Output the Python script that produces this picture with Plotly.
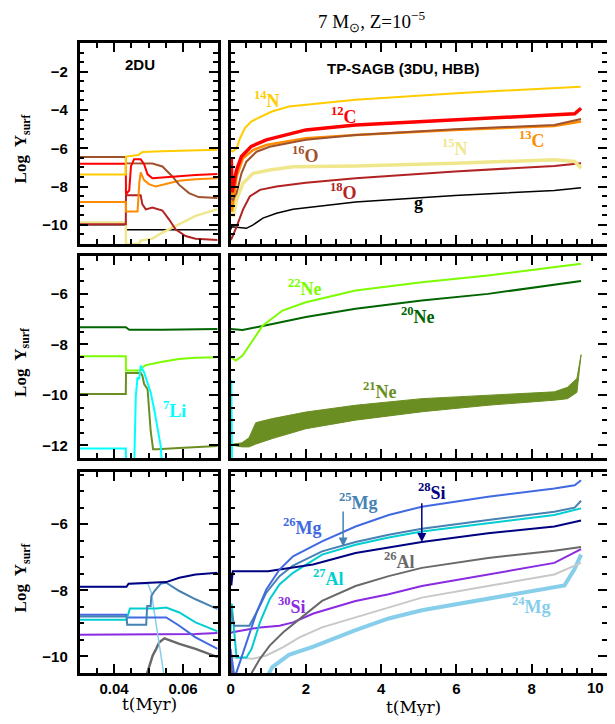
import plotly.graph_objects as go

# ---------------- DATA (t in Myr, value = log Y_surf) ----------------
# Row 1, left panel (2DU)
n14_l_t = [0.03, 0.0434, 0.04345, 0.047, 0.0482, 0.054, 0.07]
n14_l = [-7.37, -7.37, -6.43, -6.35, -6.2, -6.15, -6.08]
c12_l_t = [0.03, 0.0434, 0.04345, 0.0444, 0.0449, 0.0454, 0.0458, 0.0477, 0.0487, 0.0497, 0.0511, 0.054, 0.0588, 0.0636, 0.07]
c12_l = [-6.81, -6.81, -8.4, -8.2, -6.94, -6.7, -6.57, -6.57, -6.83, -7.36, -7.57, -7.53, -7.45, -7.4, -7.34]
c13_l_t = [0.03, 0.0434, 0.04345, 0.0468, 0.0473, 0.0477, 0.0487, 0.0501, 0.0521, 0.055, 0.0588, 0.0636, 0.07]
c13_l = [-8.8, -8.8, -9.3, -9.3, -7.83, -7.26, -7.66, -7.87, -8.0, -7.87, -7.7, -7.62, -7.57]
o16_l_t = [0.03, 0.0434, 0.04345, 0.0511, 0.054, 0.0569, 0.0588, 0.0617, 0.0645, 0.07]
o16_l = [-6.46, -6.46, -6.78, -6.8, -6.95, -7.47, -7.9, -8.34, -8.55, -8.6]
n15_l_t = [0.03, 0.0434, 0.04345, 0.0473, 0.0477, 0.0511, 0.054, 0.0588, 0.0636, 0.07]
n15_l = [-9.88, -9.88, -11.0, -11.0, -10.82, -10.72, -10.4, -9.97, -9.53, -9.18]
o18_l_t = [0.03, 0.0434, 0.04345, 0.0477, 0.0482, 0.0492, 0.0511, 0.054, 0.0559, 0.0578, 0.0607, 0.0636, 0.07]
o18_l = [-9.97, -9.97, -8.45, -8.45, -8.93, -9.19, -9.1, -9.25, -9.71, -10.23, -10.58, -10.72, -10.79]
g_l_t = [0.03, 0.0434, 0.04345, 0.07]
g_l = [-10.0, -10.0, -10.26, -10.26]

# Row 1, right panel (TP-SAGB)
n14_r_t = [0, 0.05, 0.16, 0.25, 0.38, 0.55, 0.67, 1.1, 1.55, 2.5, 3.32, 6.0, 8.0, 9.3]
n14_r = [-6.08, -6.17, -6.0, -5.48, -4.95, -4.6, -4.48, -4.08, -3.82, -3.64, -3.47, -3.12, -2.91, -2.78]
c12_r_t = [0, 0.02, 0.04, 0.16, 0.29, 0.55, 0.95, 1.66, 2.0, 3.32, 5.96, 8.6, 9.14, 9.31]
c12_r = [-7.34, -6.5, -8.3, -7.13, -6.43, -5.9, -5.56, -5.21, -5.04, -4.78, -4.52, -4.26, -4.2, -3.91]
c13_r_t = [0, 0.02, 0.04, 0.16, 0.33, 0.6, 0.95, 1.66, 2.0, 3.32, 5.96, 8.6, 9.31]
c13_r = [-7.57, -6.9, -9.3, -7.48, -6.52, -6.09, -5.83, -5.56, -5.47, -5.3, -5.04, -4.83, -4.6]
o16_r_t = [0, 0.07, 0.16, 0.29, 0.42, 0.69, 1.04, 1.66, 2.0, 3.32, 5.96, 8.6, 9.31]
o16_r = [-8.6, -8.69, -8.35, -7.31, -6.7, -6.18, -5.92, -5.71, -5.56, -5.3, -5.0, -4.78, -4.47]
n15_r_t = [0, 0.07, 0.16, 0.33, 0.6, 1.04, 1.66, 3.32, 5.96, 8.6, 9.14, 9.31]
n15_r = [-9.18, -9.56, -8.69, -7.82, -7.31, -7.13, -6.96, -6.92, -6.78, -6.6, -6.69, -7.04]
o18_r_t = [0, 0.03, 0.16, 0.33, 0.51, 0.78, 1.22, 1.66, 2.0, 3.32, 5.96, 8.6, 9.31]
o18_r = [-10.79, -10.7, -10.1, -9.2, -8.52, -8.17, -8.0, -7.9, -7.8, -7.56, -7.21, -6.92, -6.78]
g_r_t = [0, 0.03, 0.42, 0.6, 0.86, 1.22, 1.66, 2.0, 3.32, 5.96, 8.6, 9.31]
g_r = [-10.26, -10.1, -10.18, -10.0, -9.65, -9.39, -9.18, -9.1, -8.81, -8.47, -8.2, -8.06]

# Row 2, left panel
ne20_l_t = [0.03, 0.0434, 0.0444, 0.054, 0.07]
ne20_l = [-7.32, -7.32, -7.42, -7.42, -7.39]
ne22_l_t = [0.03, 0.0434, 0.04345, 0.0477, 0.0482, 0.0492, 0.054, 0.0588, 0.0636, 0.07]
ne22_l = [-8.47, -8.47, -9.03, -9.03, -8.91, -8.82, -8.69, -8.58, -8.53, -8.51]
ne21_l_t = [0.03, 0.0434, 0.04345, 0.0477, 0.0482, 0.0487, 0.0497, 0.0501, 0.0506, 0.0513, 0.0525, 0.0588, 0.07]
ne21_l = [-9.97, -9.97, -9.13, -9.13, -9.24, -9.57, -9.77, -10.5, -11.42, -12.15, -12.15, -12.1, -12.02]
li7_l_t = [0.03, 0.0434, 0.04345, 0.0458, 0.0463, 0.0468, 0.0473, 0.0477, 0.0487, 0.0497, 0.0506, 0.0516, 0.0525, 0.0535, 0.054]
li7_l = [-12.12, -12.12, -13.0, -13.0, -10.03, -9.31, -9.37, -8.84, -9.11, -9.5, -9.9, -10.56, -11.29, -12.02, -13.0]

# Row 2, right panel
ne22_r_t = [0, 0.14, 0.32, 0.49, 0.85, 1.38, 2.0, 3.32, 5.08, 6.84, 9.31]
ne22_r = [-8.51, -8.64, -8.44, -8.05, -7.26, -6.66, -6.33, -5.87, -5.54, -5.27, -4.81]
ne20_r_t = [0, 0.32, 1.11, 2.0, 3.32, 5.08, 6.84, 9.31]
ne20_r = [-7.39, -7.43, -7.19, -6.92, -6.59, -6.26, -6.0, -5.49]
ne21_r_t = [0, 0.07, 0.3, 0.49, 0.67, 1.11, 2.0, 3.32, 5.08, 6.84, 8.6, 8.95, 9.2, 9.31]
ne21_r_low = [-12.0, -12.0, -12.06, -12.06, -11.95, -11.73, -11.34, -11.0, -10.67, -10.41, -10.21, -10.15, -9.9, -8.41]
ne21_r_high = [-12.0, -11.95, -11.9, -11.7, -11.1, -10.94, -10.68, -10.41, -10.15, -10.01, -9.88, -9.7, -9.35, -8.41]
li7_r_t = [0, 0.01, 0.02, 0.04]
li7_r = [-13.0, -13.0, -9.4, -13.0]

# Row 3, left panel
si28_l_t = [0.03, 0.0436, 0.0442, 0.0551, 0.0589, 0.0636, 0.07]
si28_l = [-7.89, -7.89, -7.8, -7.75, -7.62, -7.52, -7.47]
mg24_l_t = [0.03, 0.0436, 0.0442, 0.0498, 0.0508, 0.0517, 0.0527, 0.0536, 0.0545]
mg24_l = [-7.89, -7.89, -7.8, -7.8, -8.07, -8.67, -9.47, -10.07, -10.6]
mg25_l_t = [0.03, 0.0436, 0.0438, 0.0493, 0.0496, 0.0506, 0.0508, 0.0517, 0.0536, 0.0551, 0.0589, 0.0636, 0.07]
mg25_l = [-8.79, -8.79, -9.04, -9.04, -8.47, -8.47, -8.17, -8.02, -7.79, -7.77, -8.02, -8.27, -8.57]
mg26_l_t = [0.03, 0.0436, 0.0438, 0.0551, 0.0589, 0.0636, 0.07]
mg26_l = [-8.74, -8.74, -8.82, -8.82, -9.07, -9.42, -9.77]
al27_l_t = [0.03, 0.0436, 0.0446, 0.0522, 0.0551, 0.0589, 0.0636, 0.07]
al27_l = [-8.89, -8.89, -8.55, -8.55, -8.52, -8.67, -8.97, -9.24]
si30_l_t = [0.03, 0.0636, 0.07]
si30_l = [-9.34, -9.32, -9.29]
al26_l_t = [0.0493, 0.0503, 0.0512, 0.0522, 0.0531, 0.0546, 0.0589, 0.0636, 0.07]
al26_l = [-10.6, -10.27, -9.97, -9.77, -9.57, -9.45, -9.62, -9.77, -10.02]

# Row 3, right panel
si28_r_t = [0, 0.02, 0.06, 1.0, 1.3, 2.19, 3.32, 5.08, 6.84, 8.6, 9.31]
si28_r = [-7.47, -7.85, -7.42, -7.42, -7.37, -7.22, -6.87, -6.54, -6.27, -6.07, -5.89]
mg26_r_t = [0, 0.1, 0.16, 0.42, 0.69, 0.95, 1.3, 1.66, 2.43, 3.32, 4.2, 5.08, 6.84, 8.6, 9.14, 9.31]
mg26_r = [-9.77, -10.6, -10.47, -9.57, -8.67, -7.97, -7.37, -6.97, -6.52, -6.07, -5.72, -5.47, -5.17, -4.92, -4.82, -4.67]
mg25_r_t = [0, 0.1, 0.2, 0.5, 0.69, 0.95, 1.3, 1.66, 2.43, 3.32, 4.2, 5.08, 6.84, 8.6, 9.14, 9.31]
mg25_r = [-8.57, -9.07, -9.07, -9.07, -8.67, -8.07, -7.57, -7.25, -6.82, -6.54, -6.32, -6.14, -5.87, -5.62, -5.5, -5.29]
al27_r_t = [0, 0.03, 0.16, 0.42, 0.56, 0.78, 1.04, 1.3, 1.66, 2.43, 3.32, 4.2, 5.08, 6.84, 8.6, 9.31]
al27_r = [-9.24, -8.4, -10.03, -10.03, -9.77, -8.97, -8.27, -7.82, -7.47, -6.92, -6.62, -6.4, -6.22, -5.97, -5.72, -5.52]
al26_r_t = [0, 0.05, 0.51, 0.78, 1.04, 1.4, 1.83, 2.43, 3.32, 4.2, 5.08, 6.84, 8.6, 9.31]
al26_r = [-10.02, -10.6, -10.6, -10.07, -9.67, -9.27, -8.87, -8.32, -7.87, -7.57, -7.32, -7.02, -6.8, -6.69]
si30_r_t = [0, 0.05, 0.78, 1.3, 1.66, 2.2, 3.32, 4.2, 5.08, 6.84, 8.6, 9.31]
si30_r = [-9.29, -9.27, -9.12, -9.07, -8.97, -8.7, -8.32, -8.12, -7.87, -7.52, -7.17, -6.75]
grey_r_t = [0, 0.16, 0.6, 0.95, 1.4, 1.83, 2.43, 3.32, 4.2, 5.08, 6.84, 8.6, 9.31]
grey_r = [-10.03, -10.03, -10.07, -9.97, -9.72, -9.42, -9.12, -8.82, -8.52, -8.22, -7.87, -7.52, -7.17]
mg24_r_t = [1.0, 1.11, 1.55, 2.2, 3.32, 4.2, 5.08, 6.84, 8.17, 8.87, 9.14, 9.31]
mg24_r = [-10.55, -10.32, -9.95, -9.7, -9.2, -8.85, -8.6, -8.25, -8.0, -7.85, -7.35, -6.92]

# Arrow targets (t, head log Y, tail log Y) for 25Mg and 28Si in the bottom-right panel
arrow_mg25 = (2.99, -6.67, -5.57)
arrow_si28 = (5.08, -6.54, -5.32)

# Tick labels
x_left_ticks = [0.04, 0.06]
x_right_ticks = [0, 2, 4, 6, 8, 10]

# ---------------- FIGURE ----------------
# The page body has an 8px margin on every side: the figure is made smaller so
# the page does not overflow; all pixel positions below are page pixels.
OFF = 8
W, H = 615 - OFF, 724 - 2 * OFF


def fx(p):
    return (p - OFF) / W


def fy(p):
    return 1 - (p - OFF) / H


fig = go.Figure()

GOLD, RED, ORANGE, SIENNA, KHAKI, FIRE = "#FFCC00", "#FF0000", "#FF8C00", "#A0522D", "#F0E68C", "#B22222"
LAWN, DGREEN, OLIVE, CYAN = "#7CFC00", "#006400", "#6B8E23", "#00FFFF"
ROYAL, STEEL, NAVY, TURQ, DIMG, VIOLET, SKY, LGRAY = "#4169E1", "#4682B4", "#000080", "#00CED1", "#696969", "#8A2BE2", "#87CEEB", "#C8C8C8"


def line(x, y, color, width, sp, **kw):
    sfx = "" if sp == 1 else str(sp)
    fig.add_trace(go.Scatter(x=x, y=y, mode="lines", line=dict(color=color, width=width),
                             xaxis="x" + sfx, yaxis="y" + sfx,
                             showlegend=False, hoverinfo="skip", **kw))


# row 1 left (subplot 1)
line(g_l_t, g_l, "black", 1.5, 1)
line(n15_l_t, n15_l, KHAKI, 2.5, 1)
line(o18_l_t, o18_l, FIRE, 2, 1)
line(c13_l_t, c13_l, ORANGE, 2, 1)
line(o16_l_t, o16_l, SIENNA, 2, 1)
line(c12_l_t, c12_l, RED, 2, 1)
line(n14_l_t, n14_l, GOLD, 2, 1)
# row 1 right (subplot 2)
line(g_r_t, g_r, "black", 1.5, 2)
line(o18_r_t, o18_r, FIRE, 2, 2)
line(n15_r_t, n15_r, KHAKI, 3.5, 2)
line(c13_r_t, c13_r, ORANGE, 2.5, 2)
line(o16_r_t, o16_r, SIENNA, 2, 2)
line(c12_r_t, c12_r, RED, 3.5, 2)
line(n14_r_t, n14_r, GOLD, 2, 2)
# row 2 left (subplot 3)
line(ne20_l_t, ne20_l, DGREEN, 2, 3)
line(ne22_l_t, ne22_l, LAWN, 2, 3)
line(ne21_l_t, ne21_l, OLIVE, 2, 3)
line(li7_l_t, li7_l, CYAN, 2, 3)
# row 2 right (subplot 4)
line(ne21_r_t, ne21_r_low, OLIVE, 1, 4)
line(ne21_r_t, ne21_r_high, OLIVE, 1, 4, fill="tonexty", fillcolor=OLIVE)
line(li7_r_t, li7_r, CYAN, 2, 4)
line(ne20_r_t, ne20_r, DGREEN, 2, 4)
line(ne22_r_t, ne22_r, LAWN, 2, 4)
# row 3 left (subplot 5)
line(si30_l_t, si30_l, VIOLET, 2, 5)
line(al26_l_t, al26_l, DIMG, 2.5, 5)
line(mg24_l_t, mg24_l, SKY, 1.5, 5)
line(mg26_l_t, mg26_l, ROYAL, 2, 5)
line(al27_l_t, al27_l, TURQ, 2, 5)
line(mg25_l_t, mg25_l, STEEL, 2, 5)
line(si28_l_t, si28_l, NAVY, 2, 5)
# row 3 right (subplot 6)
line(mg24_r_t, mg24_r, SKY, 4, 6)
line(grey_r_t, grey_r, LGRAY, 2, 6)
line(si30_r_t, si30_r, VIOLET, 2, 6)
line(al26_r_t, al26_r, DIMG, 2, 6)
line(al27_r_t, al27_r, TURQ, 2, 6)
line(mg25_r_t, mg25_r, STEEL, 2, 6)
line(si28_r_t, si28_r, NAVY, 2, 6)
line(mg26_r_t, mg26_r, ROYAL, 2, 6)

# ---------------- AXES ----------------
XL, XR = (76, 215), (228, 607)
ROWS = [(43, 244), (256, 458), (472, 673)]
YRANGES = [[-11, -0.5], [-12.5, -4.5], [-10.5, -4.42]]

tickfont = dict(family="Liberation Sans, Arial", size=15, color="black", weight="bold")
base = dict(showline=True, linecolor="black", linewidth=2.5, mirror="ticks", ticks="inside",
            ticklen=9, tickwidth=1.8, tickcolor="black", showgrid=False, zeroline=False,
            tickfont=tickfont)
minor_style = dict(ticks="inside", ticklen=5, tickwidth=1.5, tickcolor="black")

# The last label of the right time axis ("10") sits at the page edge, so it is
# written as an annotation (right-aligned) instead of an axis tick label.
right_ticktext = [str(v) for v in x_right_ticks[:-1]] + [""]

layout_axes = {}
for r, (top, bot) in enumerate(ROWS):
    for c, (xl, xr) in enumerate([XL, XR]):
        i = r * 2 + c + 1
        sfx = "" if i == 1 else str(i)
        if c == 0:
            xa = dict(base, range=[0.03, 0.07], tickvals=x_left_ticks, ticktext=["0.04", "0.06"],
                      minor=dict(minor_style, tick0=0.03, dtick=0.005))
        else:
            xa = dict(base, range=[0, 10], tickvals=x_right_ticks, ticktext=right_ticktext,
                      minor=dict(minor_style, tick0=0, dtick=0.4))
        xa.update(domain=[fx(xl), fx(xr)], anchor="y" + sfx, showticklabels=(r == 2))
        ya = dict(base, range=YRANGES[r], tick0=0, dtick=2,
                  minor=dict(minor_style, tick0=0, dtick=0.5),
                  domain=[fy(bot), fy(top)], anchor="x" + sfx, showticklabels=(c == 0),
                  ticklabelstandoff=6)
        layout_axes["xaxis" + sfx] = xa
        layout_axes["yaxis" + sfx] = ya

fig.update_layout(width=W, height=H, margin=dict(l=0, r=0, t=0, b=0),
                  paper_bgcolor="white", plot_bgcolor="white", **layout_axes)

# ---------------- TEXT ----------------
ann = []
serif = "Liberation Serif, Times New Roman, serif"
sans = "Liberation Sans, Arial, sans-serif"


def lab(text, x, y, sp, color, size=18, family=serif, bold=True):
    sfx = "" if sp == 1 else str(sp)
    ann.append(dict(text=text, x=x, y=y, xref="x" + sfx, yref="y" + sfx, showarrow=False,
                    font=dict(family=family, size=size, color=color, weight="bold" if bold else "normal"),
                    xanchor="center", yanchor="middle"))


def iso(a, el):
    return "<sup>%s</sup>%s" % (a, el)


lab("2DU", 0.0476, -1.64, 1, "black", 15, sans)
lab("TP-SAGB (3DU, HBB)", 4.6, -1.82, 2, "black", 15, sans)
lab(iso(14, "N"), 0.98, -3.47, 2, GOLD)
lab(iso(12, "C"), 3.0, -4.31, 2, RED)
lab(iso(13, "C"), 8.0, -5.56, 2, ORANGE)
lab(iso(16, "O"), 1.99, -6.34, 2, SIENNA)
lab(iso(15, "N"), 5.96, -5.98, 2, KHAKI)
lab(iso(18, "O"), 3.0, -8.26, 2, FIRE)
lab("g", 5.0, -8.87, 2, "black")
lab(iso(22, "Ne"), 1.99, -5.73, 4, LAWN)
lab(iso(20, "Ne"), 4.99, -6.86, 4, DGREEN)
lab(iso(21, "Ne"), 3.98, -9.84, 4, OLIVE)
lab(iso(7, "Li"), 0.0575, -10.56, 3, CYAN)
lab(iso(26, "Mg"), 1.9, -6.07, 6, ROYAL)
lab(iso(25, "Mg"), 3.4, -5.32, 6, STEEL)
lab(iso(28, "Si"), 5.35, -5.02, 6, NAVY)
lab(iso(27, "Al"), 2.59, -7.62, 6, TURQ)
lab(iso(26, "Al"), 4.5, -7.1, 6, DIMG)
lab(iso(30, "Si"), 1.64, -8.47, 6, VIOLET)
lab(iso(24, "Mg"), 8.0, -8.47, 6, SKY)

for (t, vh, vt), col in [(arrow_mg25, STEEL), (arrow_si28, NAVY)]:
    ann.append(dict(x=t, y=vh, ax=t, ay=vt, xref="x6", yref="y6", axref="x6", ayref="y6",
                    showarrow=True, arrowhead=2, arrowsize=1.2, arrowwidth=1.5, arrowcolor=col, text=""))

# last x tick label of the bottom-right panel (kept inside the visible page)
ann.append(dict(text=str(x_right_ticks[-1]), x=fx(606), y=fy(687), xref="paper", yref="paper",
                showarrow=False, font=tickfont, xanchor="right", yanchor="middle"))

# Title and axis titles (placed from page pixel positions)
ann.append(dict(text="7 M<sub>⊙</sub>, Z=10<sup>−5</sup>", x=fx(370), y=fy(22), xref="paper", yref="paper",
                showarrow=False, font=dict(family=serif, size=19, color="black"), xanchor="center", yanchor="middle"))
for top, bot in ROWS:
    ann.append(dict(text="Log  Y<sub>surf</sub>", x=fx(18), y=fy((top + bot) / 2 + 5), xref="paper", yref="paper",
                    textangle=-90, showarrow=False, font=dict(family=serif, size=17, color="black", weight="bold"),
                    xanchor="center", yanchor="middle"))
ann.append(dict(text="t(Myr)", x=fx(146), y=fy(704), xref="paper", yref="paper", showarrow=False,
                font=dict(family="DejaVu Serif", size=17, color="black"), xanchor="center", yanchor="middle"))
ann.append(dict(text="t(Myr)", x=fx(412), y=fy(707), xref="paper", yref="paper", showarrow=False,
                font=dict(family="DejaVu Serif", size=17, color="black"), xanchor="center", yanchor="middle"))

fig.update_layout(annotations=ann)
fig.write_html("out.html")
